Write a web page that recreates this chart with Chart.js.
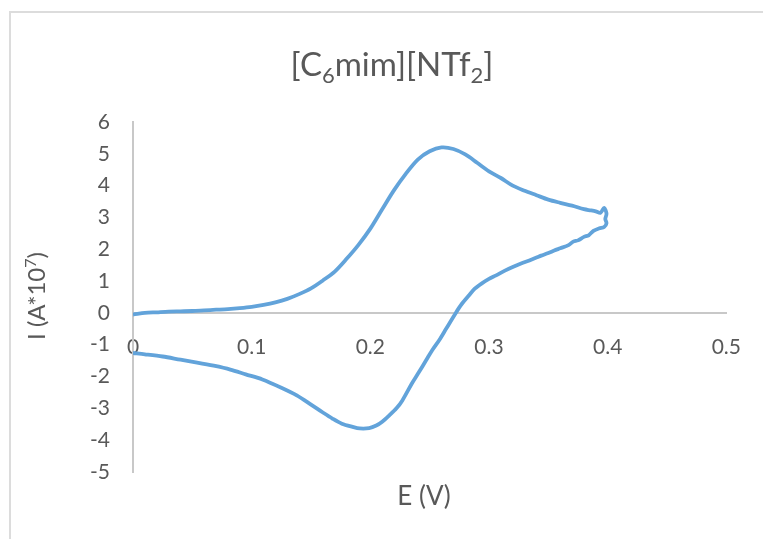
<!DOCTYPE html>
<html>
<head>
<meta charset="utf-8">
<script src="https://cdn.jsdelivr.net/npm/chart.js@4.4.1/dist/chart.umd.min.js"></script>
<style>
  html, body { margin: 0; padding: 0; background: #fff; overflow: hidden; }
  #frame {
    position: absolute; left: 9px; top: 11px; width: 900px; height: 700px;
    border: 2px solid #dcdcdc; box-sizing: border-box;
  }
  #cv { position: absolute; left: 0; top: 0; }
</style>
</head>
<body>
<div id="frame"></div>
<canvas id="cv" width="763" height="539"></canvas>
<script>
// -------------------------------------
// Cyclic voltammogram data
// E in V, I in A*10^7, in scan order
// -------------------------------------
const potential = [
  0.000, 0.005, 0.010, 0.020, 0.030, 0.040, 0.050, 0.060, 0.070, 0.080,
  0.090, 0.100, 0.110, 0.120, 0.130, 0.140, 0.150, 0.160, 0.170, 0.180,
  0.190, 0.200, 0.210, 0.220, 0.230, 0.240, 0.250, 0.260, 0.270, 0.280,
  0.290, 0.300, 0.310, 0.320, 0.330, 0.340, 0.350, 0.360, 0.370, 0.380,
  0.386, 0.390, 0.394, 0.397, 0.399, 0.398, 0.399, 0.397,
  0.393, 0.388, 0.384, 0.380, 0.375, 0.371, 0.367, 0.360, 0.355, 0.350,
  0.344, 0.340, 0.334, 0.327, 0.320, 0.313, 0.306, 0.300, 0.294, 0.288,
  0.283, 0.277, 0.272, 0.264, 0.258, 0.252, 0.247, 0.241, 0.235, 0.227,
  0.222, 0.216, 0.210, 0.205, 0.199, 0.191, 0.185, 0.176, 0.168, 0.160,
  0.150, 0.138, 0.125, 0.109, 0.095, 0.082, 0.068, 0.054, 0.040, 0.025,
  0.010, 0.000
];

const current = [
  -0.05, -0.02, 0.00, 0.02, 0.04, 0.05, 0.06, 0.08, 0.10, 0.12,
  0.15, 0.19, 0.25, 0.33, 0.44, 0.59, 0.77, 1.02, 1.30, 1.70,
  2.14, 2.65, 3.26, 3.86, 4.38, 4.82, 5.08, 5.20, 5.15, 4.98,
  4.72, 4.45, 4.24, 4.00, 3.84, 3.70, 3.56, 3.46, 3.37, 3.26,
  3.22, 3.19, 3.15, 3.30, 3.12, 2.95, 2.82, 2.70,
  2.66, 2.58, 2.44, 2.39, 2.28, 2.24, 2.13, 2.03, 1.96, 1.88,
  1.80, 1.74, 1.65, 1.55, 1.44, 1.32, 1.18, 1.07, 0.93, 0.76,
  0.55, 0.28, 0.00, -0.49, -0.86, -1.18, -1.49, -1.86, -2.22, -2.75,
  -3.00, -3.22, -3.42, -3.54, -3.62, -3.63, -3.58, -3.48, -3.32, -3.13,
  -2.88, -2.59, -2.35, -2.09, -1.93, -1.78, -1.66, -1.56, -1.47, -1.37,
  -1.30, -1.26
];

const xTickValues = [0, 0.1, 0.2, 0.3, 0.4, 0.5];
const yTickValues = [-5, -4, -3, -2, -1, 0, 1, 2, 3, 4, 5, 6];

const FONT = "Lato, 'Open Sans', sans-serif";
const TEXT = "#595959";

// draw text made of parts, some of them sub/superscript
function drawRich(ctx, parts, cx, cy, size) {
  const small = Math.round(size * 0.66);
  let w = 0;
  parts.forEach(p => {
    ctx.font = `${p.sub || p.sup ? small : size}px ${FONT}`;
    p.w = ctx.measureText(p.t).width;
    w += p.w;
  });
  let x = cx - w / 2;
  ctx.textAlign = "left";
  ctx.textBaseline = "alphabetic";
  parts.forEach(p => {
    ctx.font = `${p.sub || p.sup ? small : size}px ${FONT}`;
    let y = cy;
    if (p.sub) y += size * 0.22;
    if (p.sup) y -= size * 0.38;
    ctx.fillText(p.t, x, y);
    x += p.w;
  });
}

const labelsPlugin = {
  id: "labels",
  afterDraw(chart) {
    const ctx = chart.ctx;
    ctx.save();
    ctx.fillStyle = TEXT;
    // title
    drawRich(ctx, [
      { t: "[C" }, { t: "6", sub: true }, { t: "mim][NTf" }, { t: "2", sub: true }, { t: "]" }
    ], 392, 76, 33);
    // x axis title
    drawRich(ctx, [{ t: "E (V)" }], 424, 505, 26);
    // y axis title (rotated)
    ctx.translate(45, 296);
    ctx.rotate(-Math.PI / 2);
    drawRich(ctx, [{ t: "I (A*10" }, { t: "7", sup: true }, { t: ")" }], 0, 0, 24);
    ctx.restore();
  }
};

const points = potential.map((e, i) => ({ x: e, y: current[i] }));

new Chart(document.getElementById("cv"), {
  type: "scatter",
  data: {
    datasets: [{
      data: points,
      showLine: true,
      borderColor: "#62A3DA",
      borderWidth: 3.8,
      pointRadius: 0,
      tension: 0.3,
      fill: false
    }]
  },
  options: {
    responsive: false,
    animation: false,
    devicePixelRatio: 1,
    // x axis sits at y=0, so it reserves no space: bottom padding sets the plot bottom
    layout: { padding: { top: 122, right: 35, left: 0, bottom: 67 } },
    plugins: {
      legend: { display: false },
      title: { display: false },
      tooltip: { enabled: false }
    },
    scales: {
      x: {
        type: "linear",
        position: { y: 0 },
        min: 0,
        max: 0.5,
        afterBuildTicks: s => { s.ticks = xTickValues.map(v => ({ value: v })); },
        grid: { display: false, drawTicks: false },
        border: { display: true, color: "#c8c8c8", width: 2 },
        ticks: {
          padding: 22,
          color: TEXT,
          font: { family: FONT, size: 21 },
          maxRotation: 0,
          callback: v => String(v)
        }
      },
      y: {
        type: "linear",
        position: "left",
        min: -5,
        max: 6,
        afterBuildTicks: s => { s.ticks = yTickValues.map(v => ({ value: v })); },
        afterFit: s => { s.width = 133; },
        grid: { display: false, drawTicks: false },
        border: { display: true, color: "#c8c8c8", width: 2 },
        ticks: {
          padding: 23,
          color: TEXT,
          font: { family: FONT, size: 21 },
          callback: v => String(v)
        }
      }
    }
  },
  plugins: [labelsPlugin]
});
</script>
</body>
</html>
